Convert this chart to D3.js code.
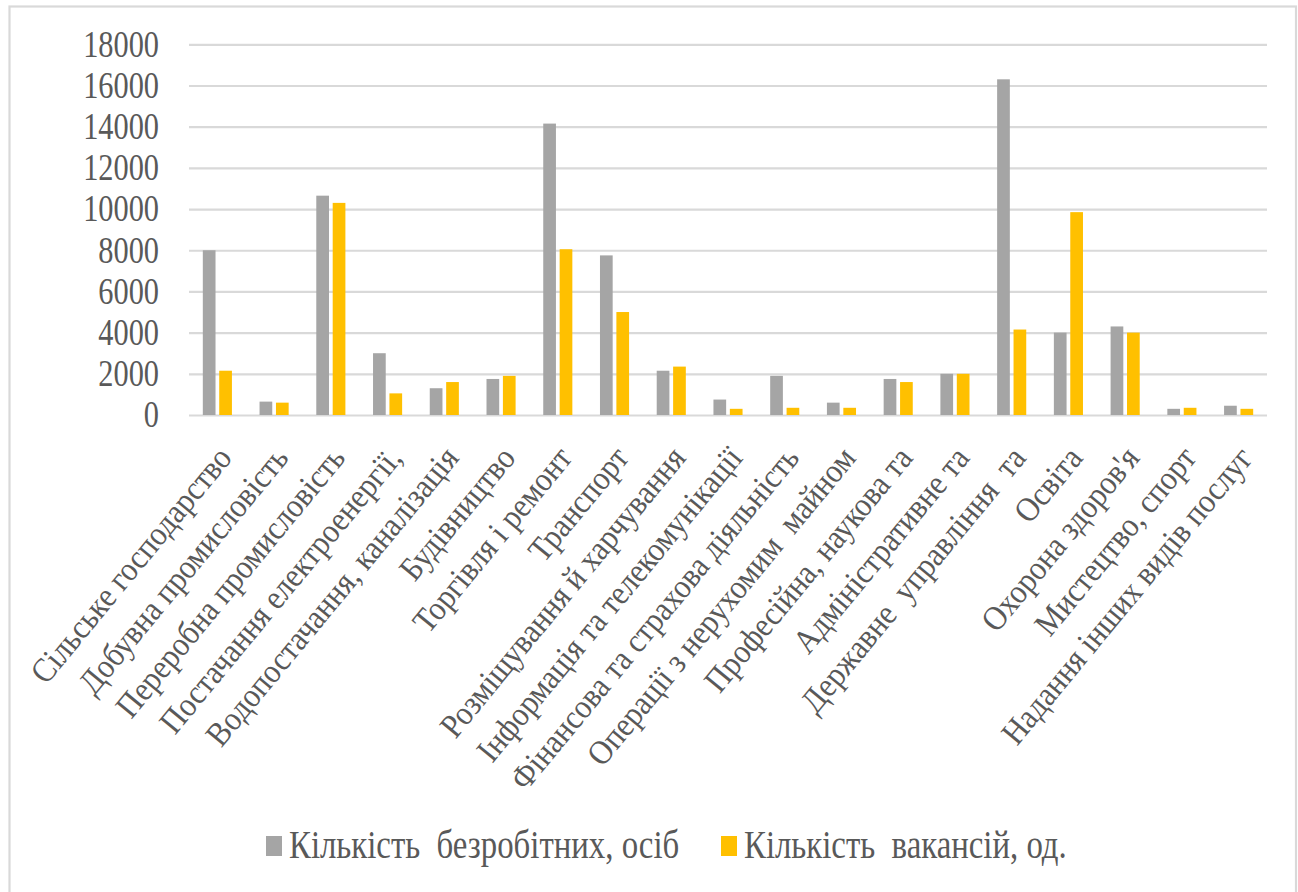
<!DOCTYPE html>
<html lang="uk">
<head>
<meta charset="UTF-8">
<title>Безробітні та вакансії за видами діяльності</title>
<script src="https://d3js.org/d3.v7.min.js"></script>
<style>
  html, body { margin: 0; padding: 0; background: #fff; }
</style>
</head>
<body>
<div id="my_dataviz"></div>
<script>

// categories (kinds of economic activity)
var categories = [
  "Сільське господарство",
  "Добувна промисловість",
  "Переробна промисловість",
  "Постачання електроенергії,",
  "Водопостачання, каналізація",
  "Будівництво",
  "Торгівля і ремонт",
  "Транспорт",
  "Розміщування й харчування",
  "Інформація та телекомунікації",
  "Фінансова та страхова діяльність",
  "Операції з нерухомим  майном",
  "Професійна, наукова та",
  "Адміністративне та",
  "Державне  управління  та",
  "Освіта",
  "Охорона здоров'я",
  "Мистецтво, спорт",
  "Надання інших видів послуг"
];

var seriesNames = ["Кількість  безробітних, осіб", "Кількість  вакансій, од."];

// values
var unemployed = [8000, 650, 10650, 3000, 1300, 1750, 14150, 7750, 2150, 750, 1900, 600, 1750, 2000, 16300, 4000, 4300, 300, 450];
var vacancies  = [2150, 600, 10300, 1050, 1600, 1900, 8050, 5000, 2350, 300, 350, 350, 1600, 2000, 4150, 9850, 4000, 350, 300];

var yTicks = [0, 2000, 4000, 6000, 8000, 10000, 12000, 14000, 16000, 18000];

var colors = ["#A5A5A5", "#FFC000"];

var FONT = "'Liberation Serif'";
var TEXT_COLOR = "#595959";

var W = 1298, H = 892;
var plotLeft = 189, plotRight = 1267;
var plotTop = 44.3, plotBottom = 415;

// squeeze a text horizontally (the picture is narrow-looking)
function squeeze(sel, k) {
  sel.each(function() {
    var len = this.getComputedTextLength();
    d3.select(this)
      .attr("textLength", len * k)
      .attr("lengthAdjust", "spacingAndGlyphs");
  });
}

var svg = d3.select("#my_dataviz")
  .append("svg")
    .attr("width", W)
    .attr("height", H);

svg.append("rect")
  .attr("width", W).attr("height", H)
  .attr("fill", "#fff");

// outer frame
svg.append("rect")
  .attr("x", 9.5)
  .attr("y", 6.5)
  .attr("width", 1296 - 9.5)
  .attr("height", 920)
  .attr("fill", "none")
  .attr("stroke", "#D9D9D9")
  .attr("stroke-width", 2.2);

// scales
var x0 = d3.scaleBand()
  .domain(categories)
  .range([plotLeft, plotRight])
  .paddingInner(0.487)
  .paddingOuter(0.2435);

var x1 = d3.scaleBand()
  .domain([0, 1])
  .range([0, x0.bandwidth()])
  .paddingInner(0.226);

var y = d3.scaleLinear()
  .domain([0, 18000])
  .range([plotBottom, plotTop]);

// gridlines
svg.append("g")
  .attr("transform", "translate(" + plotLeft + ",0)")
  .call(d3.axisLeft(y).tickValues(yTicks).tickSize(-(plotRight - plotLeft)).tickFormat(""))
  .call(function(a) { a.select(".domain").remove(); })
  .selectAll("line")
    .attr("stroke", "#D9D9D9")
    .attr("stroke-width", 2.2);

// Y axis labels
svg.append("g")
  .attr("transform", "translate(" + plotLeft + ",0)")
  .call(d3.axisLeft(y).tickValues(yTicks).tickSize(0).tickPadding(30).tickFormat(d3.format("d")))
  .call(function(a) { a.select(".domain").remove(); })
  .selectAll("text")
    .style("font-family", FONT)
    .style("font-size", "37px")
    .style("fill", TEXT_COLOR)
    .call(squeeze, 0.82);

// bars
var rows = categories.map(function(c, i) { return { cat: c, vals: [unemployed[i], vacancies[i]] }; });

svg.append("g")
  .selectAll("g")
  .data(rows)
  .enter()
  .append("g")
    .attr("transform", function(d) { return "translate(" + x0(d.cat) + ",0)"; })
  .selectAll("rect")
  .data(function(d) { return d.vals.map(function(v, k) { return { k: k, v: v }; }); })
  .enter()
  .append("rect")
    .attr("x", function(d) { return x1(d.k); })
    .attr("y", function(d) { return y(d.v); })
    .attr("width", x1.bandwidth())
    .attr("height", function(d) { return y(0) - y(d.v); })
    .attr("fill", function(d) { return colors[d.k]; });

// X axis labels, rotated
svg.append("g")
  .selectAll("text")
  .data(categories)
  .enter()
  .append("text")
    .attr("transform", function(d) {
      return "translate(" + (x0(d) + x0.bandwidth() / 2 + 4) + ",449) rotate(-50.5)";
    })
    .attr("dy", "0.45em")
    .attr("text-anchor", "end")
    .style("font-family", FONT)
    .style("font-size", "34px")
    .style("fill", TEXT_COLOR)
    .style("white-space", "pre")
    .text(function(d) { return d; })
    .call(squeeze, 0.9);

// legend
var legendX = [266, 721];
var leg = svg.append("g");
seriesNames.forEach(function(name, k) {
  leg.append("rect")
    .attr("x", legendX[k])
    .attr("y", 836)
    .attr("width", 16)
    .attr("height", 20)
    .attr("fill", colors[k]);
  leg.append("text")
    .attr("x", legendX[k] + 23)
    .attr("y", 858)
    .style("font-family", FONT)
    .style("font-size", "40px")
    .style("fill", TEXT_COLOR)
    .style("white-space", "pre")
    .text(name)
    .call(squeeze, 0.82);
});

</script>
</body>
</html>
